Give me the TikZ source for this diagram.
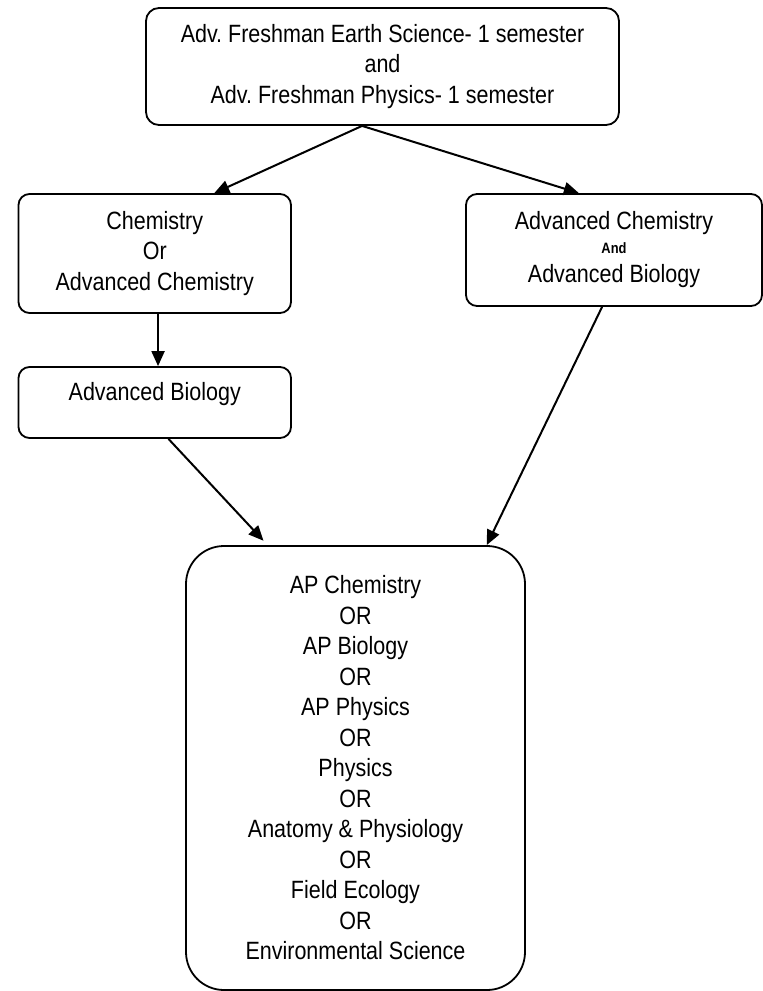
\documentclass[tikz,border=0pt]{standalone}
\usepackage{fontspec}
\setmainfont{Liberation Sans}[FakeStretch=0.86]
\usetikzlibrary{arrows.meta,calc}
\frenchspacing
\tikzset{
  box/.style={draw=black, line width=1.8pt, fill=white, inner sep=0pt, align=center,
    font=\fontsize{25}{30.5}\selectfont},
  smallr/.style={rounded corners=11pt},
  conn/.style={line width=2pt, -{Triangle[length=15pt,width=13pt]}}
}
\begin{document}
\begin{tikzpicture}[x=1pt,y=-1pt]
\useasboundingbox (0,0) rectangle (763,991);

\node[box, rounded corners=13pt, minimum width=473pt, minimum height=117pt] (top) at (382.5,66.5)
  {Adv. Freshman Earth Science- 1 semester\\and\\Adv. Freshman Physics- 1 semester};

\node[box, smallr, minimum width=272.5pt, minimum height=119pt] (chem) at (154.75,253.5)
  {Chemistry\\Or\\Advanced Chemistry};

\node[box, smallr, minimum width=296pt, minimum height=112pt] (advboth) at (614,250)
  {Advanced Chemistry\\[-7pt]{\fontsize{15}{18}\selectfont\bfseries And}\\[-1pt]Advanced Biology};

\node[box, smallr, minimum width=272.5pt, minimum height=71pt, text height=10pt, text depth=15pt] (advbio) at (154.75,402.5)
  {Advanced Biology};

\node[box, rounded corners=38pt, minimum width=339pt, minimum height=444pt] (final) at (355.5,768)
  {AP Chemistry\\OR\\AP Biology\\OR\\AP Physics\\OR\\Physics\\OR\\Anatomy \& Physiology\\OR\\Field Ecology\\OR\\Environmental Science};

\draw[conn] ($(top.south west)!0.457!(top.south east)$) -- ($(chem.north west)!0.717!(chem.north east)$);
\draw[conn] ($(top.south west)!0.457!(top.south east)$) -- ($(advboth.north west)!0.382!(advboth.north east)$);
\draw[conn] ($(chem.south west)!0.512!(chem.south east)$) -- ($(advbio.north west)!0.512!(advbio.north east)$);
\draw[conn, shorten >=6pt] ($(advbio.south west)!0.55!(advbio.south east)$) -- ($(final.north west)!0.242!(final.north east)$);
\draw[conn] ($(advboth.south west)!0.46!(advboth.south east)$) -- ($(final.north west)!0.885!(final.north east)$);
\end{tikzpicture}
\end{document}
